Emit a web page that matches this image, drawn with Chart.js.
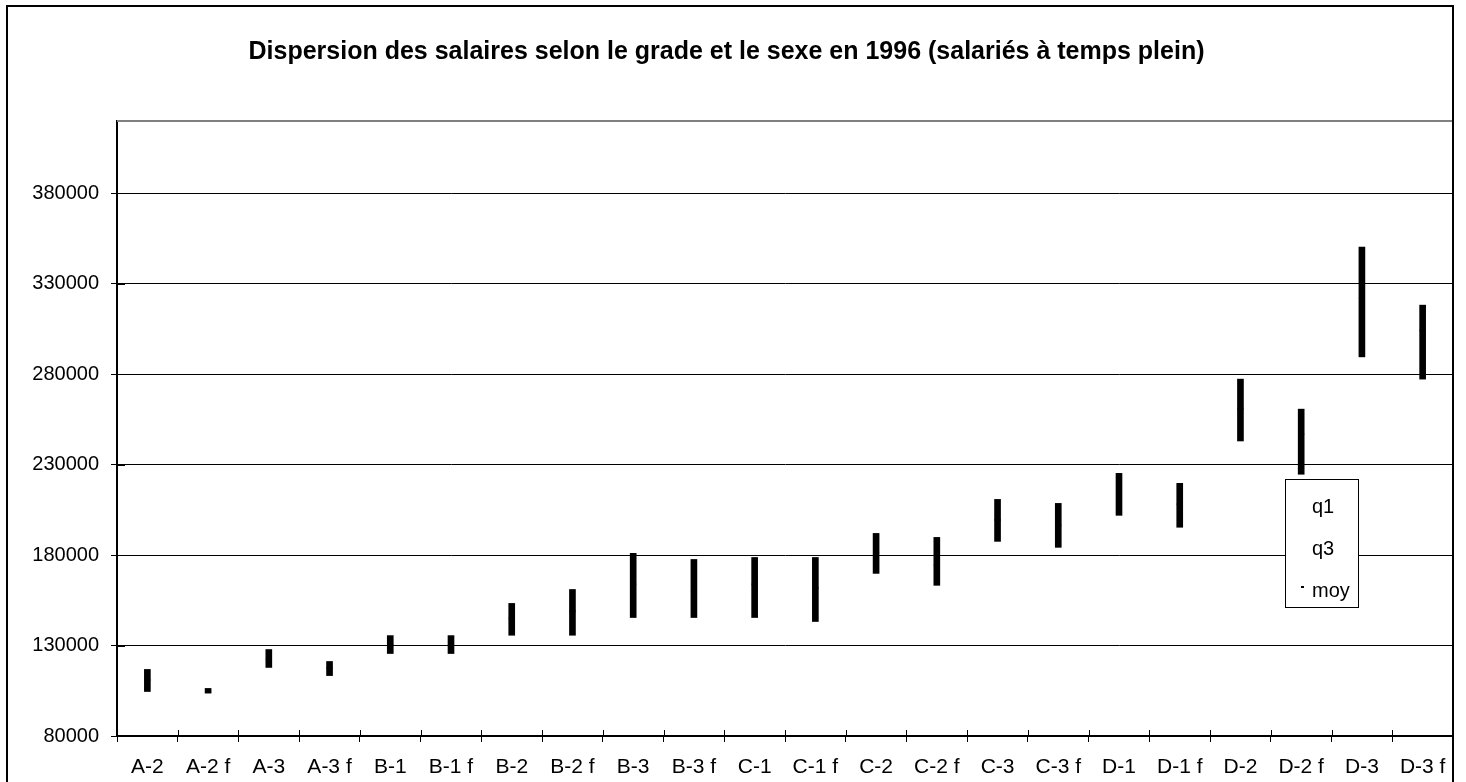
<!DOCTYPE html>
<html>
<head>
<meta charset="utf-8">
<script src="https://cdn.jsdelivr.net/npm/chart.js@4.4.0/dist/chart.umd.min.js"></script>
<style>
  html, body { margin: 0; padding: 0; background: #fff; }
  #wrap { width: 1466px; height: 782px; }
</style>
</head>
<body>
<div id="wrap"><canvas id="myChart" width="1466" height="782"></canvas></div>
<script>
var grades = ["A-2", "A-2 f", "A-3", "A-3 f", "B-1", "B-1 f", "B-2", "B-2 f", "B-3", "B-3 f", "C-1",
  "C-1 f", "C-2", "C-2 f", "C-3", "C-3 f", "D-1", "D-1 f", "D-2", "D-2 f", "D-3", "D-3 f"];
var q1 = [104600, 103700, 117900, 113400, 125600, 125600, 135700, 135700, 145500, 145500, 145500,
  143300, 169900, 163300, 187600, 184300, 202000, 195400, 243100, 224700, 289600, 277300];
var q3 = [116800, 106300, 127800, 121200, 135500, 135500, 153300, 161000, 181000, 177600, 178700,
  178700, 192000, 189800, 210800, 208600, 225200, 219700, 277300, 260700, 350300, 318200];
var moy = [111000, 105000, 122500, 117500, 130500, 130300, 145000, 149000, 163800, 159700, 163800,
  161900, 181500, 174500, 199500, 196500, 214000, 208100, 261000, 247000, 322000, 304200];
var yTicks = [80000, 130000, 180000, 230000, 280000, 330000, 380000];

var FONT = "'Liberation Sans', Arial, sans-serif";

// frame round the whole chart, grey top edge of the plot, tick marks that cross the axes
var framePlugin = {
  id: "frame",
  beforeDraw: function (chart) {
    var c = chart.ctx;
    c.save();
    c.fillStyle = "#fff";
    c.fillRect(0, 0, chart.width, chart.height);
    c.restore();
  },
  afterDraw: function (chart) {
    var c = chart.ctx, a = chart.chartArea;
    var xs = chart.scales.x, ys = chart.scales.y;
    c.save();
    c.strokeStyle = "#808080";
    c.lineWidth = 2;
    c.beginPath();
    c.moveTo(a.left, a.top);
    c.lineTo(a.right, a.top);
    c.stroke();

    c.strokeStyle = "#000";
    c.lineWidth = 1;
    c.beginPath();
    yTicks.forEach(function (v) {
      var py = Math.round(ys.getPixelForValue(v)) + 0.5;
      c.moveTo(a.left, py);
      c.lineTo(a.left + 8, py);
    });
    for (var k = 0; k <= grades.length; k++) {
      var px = Math.round(xs.getPixelForValue(k - 0.5)) + 0.5;
      c.moveTo(px, a.bottom);
      c.lineTo(px, a.bottom - 6);
    }
    c.stroke();

    c.lineWidth = 2;
    c.strokeRect(7, 6, a.right - 7, chart.height + 10);
    c.restore();
  }
};

// legend box inside the plot, as in the spreadsheet
var legendBox = {
  id: "legendBox",
  afterDraw: function (chart) {
    var c = chart.ctx, a = chart.chartArea;
    var x = a.right - 168, y = 479, w = 73, h = 128;
    c.save();
    c.fillStyle = "#fff";
    c.fillRect(x, y, w, h);
    c.strokeStyle = "#000";
    c.lineWidth = 1;
    c.strokeRect(x + 0.5, y + 0.5, w, h);
    c.font = "20px " + FONT;
    c.fillStyle = "#000";
    c.textBaseline = "middle";
    chart.data.datasets.forEach(function (ds, i) {
      if (ds.type !== "line") return;
      var ty = y + 28 + i * 42;
      c.fillText(ds.label, x + 27, ty);
      if (ds.pointRadius > 0) c.fillRect(x + 16, ty - 5, 3, 2);
    });
    c.restore();
  }
};

var ctx = document.getElementById("myChart");
var myChart = new Chart(ctx, {
  data: {
    labels: grades,
    datasets: [
      { type: "line", label: "q1", data: q1, showLine: false, pointRadius: 0, order: 1 },
      { type: "line", label: "q3", data: q3, showLine: false, pointRadius: 0, order: 1 },
      {
        type: "line", label: "moy", data: moy, showLine: false,
        pointStyle: "line", pointRadius: 3, borderColor: "#000", borderWidth: 2,
        pointBorderColor: "#000", order: 0
      },
      {
        type: "bar", label: "q1-q3",
        data: q1.map(function (v, i) { return [v, q3[i]]; }),
        backgroundColor: "#000", borderWidth: 0, barThickness: 6, order: 2
      }
    ]
  },
  options: {
    responsive: false,
    animation: false,
    layout: { padding: { left: 0, right: 13, top: 0, bottom: 0 } },
    plugins: {
      legend: { display: false },
      tooltip: { enabled: false },
      title: {
        display: true,
        text: "Dispersion des salaires selon le grade et le sexe en 1996 (salariés à temps plein)",
        color: "#000",
        font: { family: FONT, size: 25, weight: "bold", lineHeight: 1.2 },
        padding: { top: 37, bottom: 54 }
      }
    },
    scales: {
      x: {
        offset: true,
        grid: { display: true, drawOnChartArea: false, offset: true, color: "#000", tickLength: 6, tickWidth: 1 },
        border: { color: "#000", width: 2 },
        ticks: { color: "#000", font: { family: FONT, size: 21 }, padding: 13, maxRotation: 0, autoSkip: false },
        afterFit: function (s) { s.height = 46; }
      },
      y: {
        min: 80000,
        max: 420000,
        afterBuildTicks: function (s) { s.ticks = yTicks.map(function (v) { return { value: v }; }); },
        grid: { color: "#000", lineWidth: 1, tickLength: 6, tickColor: "#000" },
        border: { color: "#000", width: 2 },
        ticks: {
          color: "#000", font: { family: FONT, size: 20 }, padding: 12,
          callback: function (v) { return String(v); }
        },
        afterFit: function (s) { s.width = 117; }
      }
    }
  },
  plugins: [framePlugin, legendBox]
});
</script>
</body>
</html>
